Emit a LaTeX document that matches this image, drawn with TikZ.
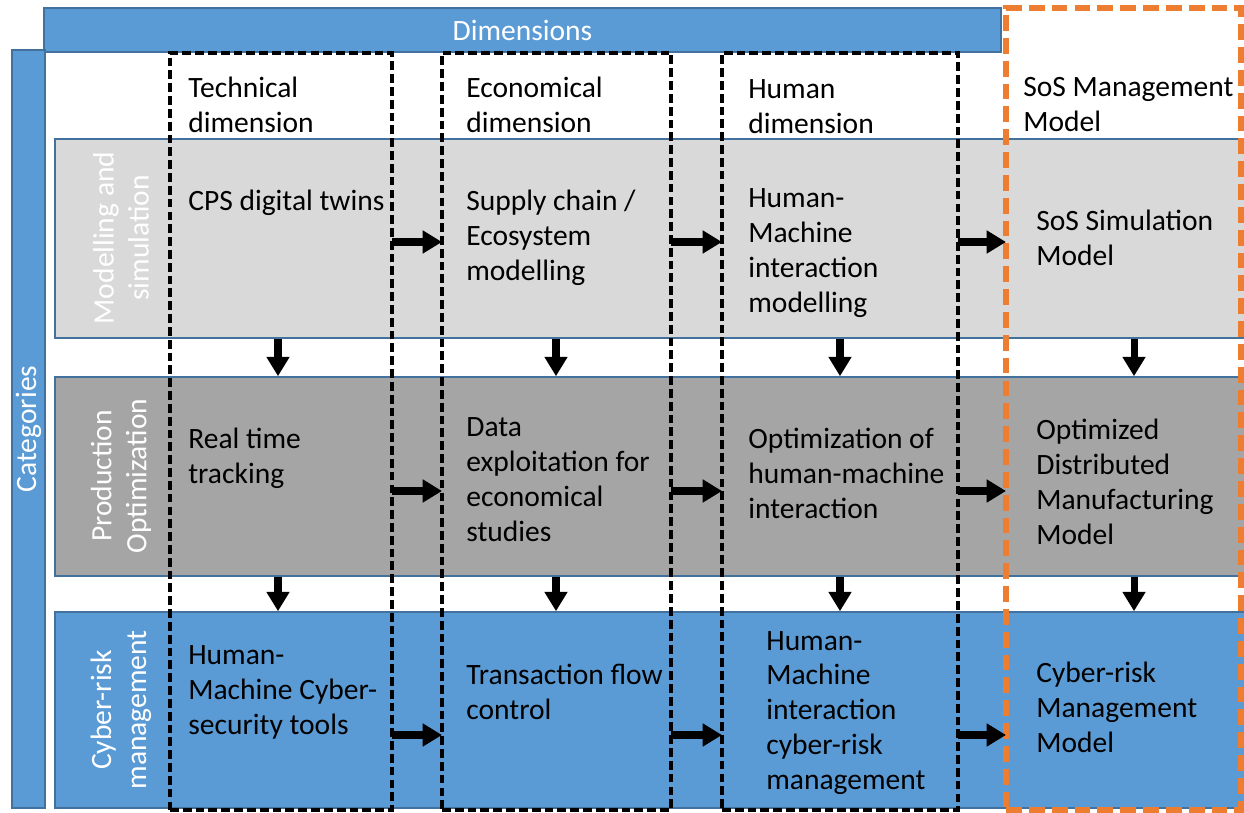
\documentclass[tikz,border=0pt]{standalone}
\usepackage{fontspec}
\setmainfont{Carlito}
\usetikzlibrary{arrows.meta,fit}

\definecolor{barblue}{HTML}{5B9BD5}
\definecolor{edgeblue}{HTML}{41719C}
\definecolor{lightrow}{HTML}{D9D9D9}
\definecolor{midrow}{HTML}{A5A5A5}
\definecolor{sosorange}{HTML}{ED7D31}

\begin{document}
\begin{tikzpicture}[
    x=0.02cm, y=-0.02cm,
    font=\fontsize{16.8}{19.9}\selectfont,
    bar/.style={draw=edgeblue, line width=0.9pt, fill=barblue, inner sep=0pt},
    band/.style={draw=edgeblue, line width=0.9pt, inner sep=0pt},
    dimbox/.style={draw=black, line width=2.2pt, dash pattern=on 5pt off 2.3pt, inner sep=0pt, outer sep=0pt},
    sosbox/.style={draw=sosorange, line width=3.4pt, dash pattern=on 9pt off 4pt, inner sep=0pt, outer sep=0pt},
    cell/.style={anchor=west, align=left, inner sep=0pt},
    rowlabel/.style={rotate=90, align=center, text=white, inner sep=0pt},
    link/.style={-{Triangle[length=11pt, width=12.5pt]}, line width=4pt}
]
\useasboundingbox (0,0) rectangle (1244,813);

% header bars
\node[bar, fit={(44,8) (1001,52)}] (dims) {};
\node[text=white] at (dims) {Dimensions};
\node[bar, fit={(12,50) (45,808)}] (cats) {};
\node[rotate=90, text=white] at (cats) {Categories};

% category bands
\node[band, fill=lightrow, fit={(55,139) (1252,338)}] (mods) {};
\node[band, fill=midrow, fit={(55,377) (1252,576)}] (prod) {};
\node[band, fill=barblue, fit={(55,612) (1252,808)}] (cyber) {};
\node[rowlabel] at (121,238) {Modelling and\\simulation};
\node[rowlabel] at (121,476) {Production\\Optimization};
\node[rowlabel] at (121,710) {Cyber-risk\\management};

% dimension columns
\node[dimbox, fit={(170,53) (392,810)}] (tech) {};
\node[dimbox, fit={(442,53) (671,810)}] (econ) {};
\node[dimbox, fit={(722,53) (958,810)}] (human) {};
\node[sosbox, fit={(1006,8) (1241,810)}] (sos) {};

% column titles
\node[cell] (h1) at (188,105) {Technical\\dimension};
\node[cell] (h2) at (466,105) {Economical\\dimension};
\node[cell] (h3) at (748,107) {Human\\dimension};
\node[cell] (h4) at (1023,105) {SoS Management\\Model};

% modelling and simulation
\node[cell] (m1) at (188,203) {CPS digital twins};
\node[cell] (m2) at (466,238) {Supply chain /\\Ecosystem\\modelling};
\node[cell] (m3) at (748,253) {Human-\\Machine\\interaction\\modelling};
\node[cell] (m4) at (1036,238) {SoS Simulation\\Model};

% production optimization
\node[cell] (p1) at (188,458) {Real time\\tracking};
\node[cell] (p2) at (466,480) {Data\\exploitation for\\economical\\studies};
\node[cell] (p3) at (748,473) {Optimization of\\human-machine\\interaction};
\node[cell] (p4) at (1036,482) {Optimized\\Distributed\\Manufacturing\\Model};

% cyber-risk management
\node[cell] (c1) at (188,692) {Human-\\Machine Cyber-\\security tools};
\node[cell] (c2) at (466,692) {Transaction flow\\control};
\node[cell] (c3) at (766,713) {Human-\\Machine\\interaction\\cyber-risk\\management};
\node[cell] (c4) at (1036,707) {Cyber-risk\\Management\\Model};

% arrows between dimensions
\coordinate (y1) at (0,242);
\coordinate (y2) at (0,491);
\coordinate (y3) at (0,735);
\foreach \r in {1,2,3} {
  \draw[link] (tech.east |- y\r) -- (econ.west |- y\r);
  \draw[link] (econ.east |- y\r) -- (human.west |- y\r);
  \draw[link] (human.east |- y\r) -- (sos.west |- y\r);
}

% arrows between categories
\foreach \x [count=\i] in {278,556,840,1134}
  \coordinate (k\i) at (\x,0);
\foreach \i in {1,...,4} {
  \draw[link] (k\i |- mods.south) -- (k\i |- prod.north);
  \draw[link] (k\i |- prod.south) -- (k\i |- cyber.north);
}
\end{tikzpicture}
\end{document}
